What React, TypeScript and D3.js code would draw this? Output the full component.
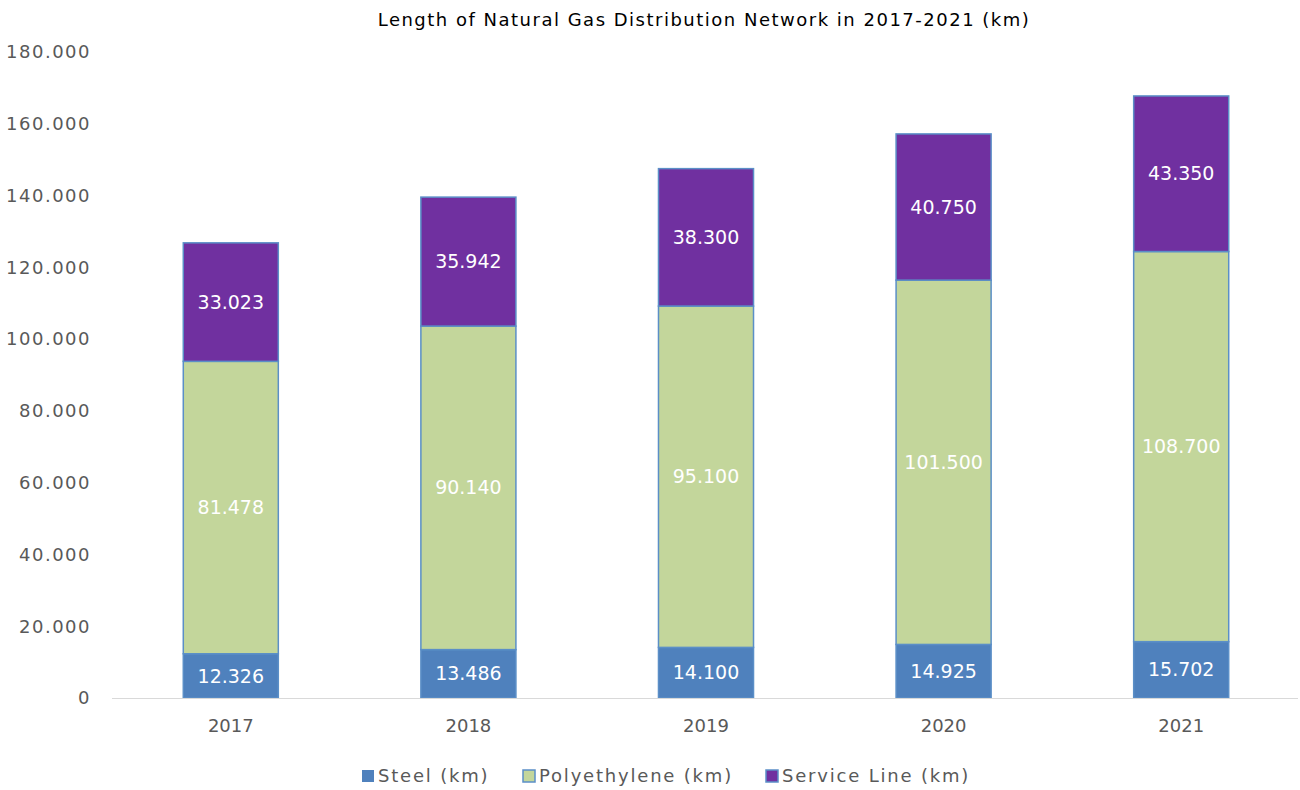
import React, { useEffect, useRef } from "react";
import * as d3 from "d3";

const years = ["2017", "2018", "2019", "2020", "2021"];
const steel = [12326, 13486, 14100, 14925, 15702];
const polyethylene = [81478, 90140, 95100, 101500, 108700];
const serviceLine = [33023, 35942, 38300, 40750, 43350];
const seriesNames = ["Steel (km)", "Polyethylene (km)", "Service Line (km)"];
const seriesColors = ["#4F81BD", "#C3D69B", "#7030A0"];
const yTicks = [0, 20000, 40000, 60000, 80000, 100000, 120000, 140000, 160000, 180000];

const FONT = "'DejaVu Sans', sans-serif";
const fmt = (v: number) => (v === 0 ? "0" : d3.format(",")(v).replace(/,/g, "."));

export default function App() {
  const svgRef = useRef<SVGSVGElement>(null);

  useEffect(() => {
    const width = 1300;
    const height = 790;
    const svg = d3.select(svgRef.current).attr("width", width).attr("height", height);
    svg.selectAll("*").remove();

    const x = d3.scaleBand().domain(years).range([112, 1300]).paddingInner(0.6).paddingOuter(0.3);
    const y = d3.scaleLinear().domain([0, 180000]).range([698, 52]);

    const rows = years.map((yr, i) => ({
      year: yr,
      steel: steel[i],
      poly: polyethylene[i],
      service: serviceLine[i],
    }));
    const keys = ["steel", "poly", "service"];
    const stacked = d3.stack<any>().keys(keys)(rows);

    // title
    svg
      .append("text")
      .attr("x", 704)
      .attr("y", 26)
      .attr("text-anchor", "middle")
      .attr("fill", "#000")
      .style("font-family", FONT)
      .style("font-size", "18px")
      .style("letter-spacing", "1.5px")
      .text("Length of Natural Gas Distribution Network in 2017-2021 (km)");

    // y tick labels
    svg
      .append("g")
      .selectAll("text")
      .data(yTicks)
      .enter()
      .append("text")
      .attr("x", 91)
      .attr("y", (d) => y(d))
      .attr("dy", "0.35em")
      .attr("text-anchor", "end")
      .attr("fill", "#595959")
      .style("font-family", FONT)
      .style("font-size", "18px")
      .style("letter-spacing", "1.5px")
      .text((d) => fmt(d));

    // bars
    const layers = svg
      .append("g")
      .selectAll("g")
      .data(stacked)
      .enter()
      .append("g")
      .attr("fill", (d, i) => seriesColors[i]);

    layers
      .selectAll("rect")
      .data((d) => d)
      .enter()
      .append("rect")
      .attr("x", (d: any) => x(d.data.year)!)
      .attr("y", (d) => y(d[1]))
      .attr("width", x.bandwidth())
      .attr("height", (d) => y(d[0]) - y(d[1]))
      .attr("stroke", "#5B8FC7")
      .attr("stroke-width", 1.5);

    // labels
    layers
      .selectAll("text")
      .data((d) => d)
      .enter()
      .append("text")
      .attr("x", (d: any) => x(d.data.year)! + x.bandwidth() / 2)
      .attr("y", (d) => (y(d[0]) + y(d[1])) / 2)
      .attr("dy", "0.35em")
      .attr("text-anchor", "middle")
      .attr("fill", "#fff")
      .style("font-family", FONT)
      .style("font-size", "19px")
      .text((d) => fmt(d[1] - d[0]));

    // x axis line
    svg
      .append("line")
      .attr("x1", 112)
      .attr("x2", 1298)
      .attr("y1", 698.5)
      .attr("y2", 698.5)
      .attr("stroke", "#D9D9D9")
      .attr("stroke-width", 1);

    svg
      .append("g")
      .selectAll("text")
      .data(years)
      .enter()
      .append("text")
      .attr("x", (d) => x(d)! + x.bandwidth() / 2)
      .attr("y", 726)
      .attr("dy", "0.35em")
      .attr("text-anchor", "middle")
      .attr("fill", "#595959")
      .style("font-family", FONT)
      .style("font-size", "18px")
      .text((d) => d);

    // legend
    const legendX = [362, 523, 766];
    const leg = svg
      .append("g")
      .selectAll("g")
      .data(seriesNames)
      .enter()
      .append("g")
      .attr("transform", (d, i) => `translate(${legendX[i]}, 776)`);
    leg
      .append("rect")
      .attr("x", 0)
      .attr("y", -6)
      .attr("width", 12)
      .attr("height", 12)
      .attr("fill", (d, i) => seriesColors[i])
      .attr("stroke", (d, i) => (i === 0 ? "none" : "#5B8FC7"))
      .attr("stroke-width", 1.5);
    leg
      .append("text")
      .attr("x", 16)
      .attr("y", 0)
      .attr("dy", "0.35em")
      .attr("fill", "#595959")
      .style("font-family", FONT)
      .style("font-size", "18px")
      .style("letter-spacing", "1.8px")
      .text((d) => d);
  }, []);

  return (
    <div style={{ position: "absolute", left: 0, top: 0, background: "#fff" }}>
      <svg ref={svgRef} />
    </div>
  );
}
